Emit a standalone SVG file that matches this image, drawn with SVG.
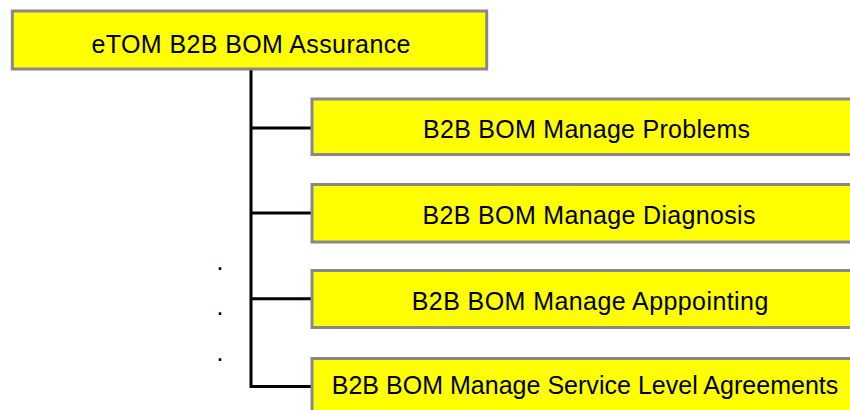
<svg xmlns="http://www.w3.org/2000/svg" width="850" height="410" viewBox="0 0 850 410">
<style>
.box{fill:#ffff00;stroke:#888888;stroke-width:3}
.lbl{font-family:"Liberation Sans",Arial,sans-serif;font-size:25px;fill:#000;text-anchor:middle}
.con{fill:none;stroke:#000;stroke-width:3}
.dot{font-family:"Liberation Sans",Arial,sans-serif;font-size:25px;fill:#000}
</style>
<rect width="850" height="410" fill="#ffffff"/>
<g id="connectors">
<path class="con" d="M251,70 V386.5 H312"/>
<path class="con" d="M251,128 H312"/>
<path class="con" d="M251,213 H312"/>
<path class="con" d="M251,298.7 H312"/>
</g>
<g id="root">
<rect class="box" x="12.3" y="11" width="474.4" height="58"/>
<text class="lbl" x="251" y="53.3" textLength="319">eTOM B2B BOM Assurance</text>
</g>
<g id="problems">
<rect class="box" x="312" y="99" width="560" height="55.5"/>
<text class="lbl" x="586.5" y="138.3" textLength="327">B2B BOM Manage Problems</text>
</g>
<g id="diagnosis">
<rect class="box" x="312" y="184.5" width="560" height="57.5"/>
<text class="lbl" x="589" y="224" textLength="333">B2B BOM Manage Diagnosis</text>
</g>
<g id="appointing">
<rect class="box" x="312" y="270.5" width="560" height="57"/>
<text class="lbl" x="590" y="310" textLength="356.6">B2B BOM Manage Apppointing</text>
</g>
<g id="sla">
<rect class="box" x="312" y="358.5" width="560" height="57"/>
<text class="lbl" x="585" y="394.3" textLength="506.6">B2B BOM Manage Service Level Agreements</text>
</g>
<g id="dots">
<text class="dot" x="216.5" y="269.5">.</text>
<text class="dot" x="216.5" y="315">.</text>
<text class="dot" x="216.5" y="360.5">.</text>
</g>
</svg>
